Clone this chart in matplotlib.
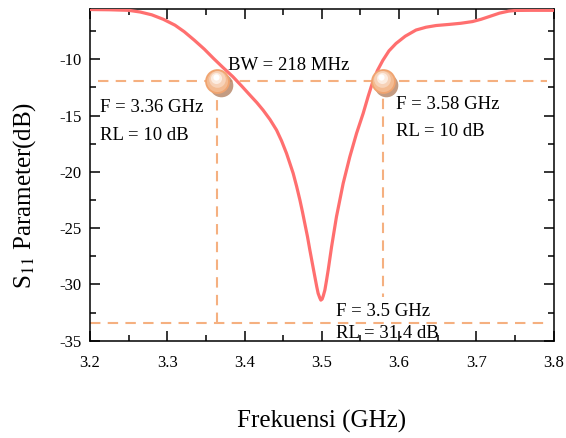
import matplotlib.pyplot as plt
from matplotlib.ticker import MultipleLocator

plt.rcParams['font.family'] = ['Liberation Serif', 'DejaVu Serif']
plt.rcParams['mathtext.fontset'] = 'stix'

# S11 curve
freq = [3.200, 3.225, 3.250, 3.265, 3.280, 3.295, 3.310, 3.322, 3.335, 3.348,
        3.360, 3.372, 3.385, 3.396, 3.407, 3.416, 3.424, 3.433, 3.4415, 3.448,
        3.4544, 3.459, 3.463, 3.4675, 3.4717, 3.475, 3.478, 3.4815, 3.4846, 3.488,
        3.491, 3.4935, 3.4953, 3.4975, 3.4988, 3.5005, 3.502, 3.504, 3.506, 3.5083,
        3.5127, 3.519, 3.5277, 3.5363, 3.545, 3.5536, 3.560, 3.566, 3.572, 3.579,
        3.587, 3.596, 3.608, 3.622, 3.635, 3.648, 3.665, 3.680, 3.695, 3.706,
        3.717, 3.730, 3.742, 3.751, 3.770, 3.800]
s11 = [-5.58, -5.60, -5.65, -5.80, -6.05, -6.45, -6.97, -7.55, -8.30, -9.10,
       -9.93, -10.72, -11.55, -12.35, -13.18, -13.85, -14.51, -15.35, -16.29, -17.25,
       -18.36, -19.30, -20.13, -21.30, -22.50, -23.55, -24.57, -25.75, -26.95, -28.20,
       -29.30, -30.20, -30.79, -31.20, -31.39, -31.30, -31.00, -30.50, -29.70, -28.72,
       -26.65, -23.99, -21.02, -18.66, -16.58, -14.80, -13.30, -12.00, -11.00, -10.10,
       -9.25, -8.60, -7.95, -7.40, -7.15, -7.00, -6.90, -6.80, -6.65, -6.45,
       -6.20, -5.90, -5.72, -5.66, -5.65, -5.65]

# marked points
f_low, f_high, f_res = 3.365, 3.579, 3.5
rl_level = -11.9
min_level = -33.4
vline_high_end = -31.1

fig = plt.figure(figsize=(5.66, 4.38), dpi=100)
ax = fig.add_axes([0.159, 0.222, 0.819, 0.757])

dash_c = '#f5b080'
dash_kw = dict(color=dash_c, lw=1.5, ls=(0, (5, 3.5)), zorder=2)

# guide lines
ax.plot([3.21, 3.792], [rl_level, rl_level], **dash_kw)
ax.plot([3.2, 3.792], [min_level, min_level], **dash_kw)
ax.plot([f_low, f_low], [min_level, rl_level], **dash_kw)
ax.plot([f_high, f_high], [rl_level, vline_high_end], **dash_kw)

# main curve
ax.plot(freq, s11, color='#ff6f6f', lw=2.3, zorder=3, solid_capstyle='round')

# bubble markers
for fx in [f_low, f_high]:
    ax.plot(fx + 0.0045, rl_level - 0.4, 'o', ms=17, color='#b98a6c',
            mec='none', zorder=4, alpha=0.85)
    ax.plot(fx, rl_level, 'o', ms=16.5, mfc='#f3bb92', mec='#f0a470',
            mew=1.3, zorder=5)
    ax.plot(fx - 0.0008, rl_level + 0.12, 'o', ms=12, color='#f7d2b8',
            mec='none', zorder=6)
    ax.plot(fx - 0.0015, rl_level + 0.22, 'o', ms=8, color='#fcece0',
            mec='none', zorder=7)
    ax.plot(fx - 0.002, rl_level + 0.3, 'o', ms=4.5, color='#ffffff',
            mec='none', zorder=7)

fs = 13.5
ax.text(3.379, -10.52, 'BW = 218 MHz', fontsize=fs, va='center', zorder=8)
ax.text(3.213, -14.3, 'F = 3.36 GHz', fontsize=fs, va='center', zorder=8)
ax.text(3.213, -16.75, 'RL = 10 dB', fontsize=fs, va='center', zorder=8)
ax.text(3.596, -14.0, 'F = 3.58 GHz', fontsize=fs, va='center', zorder=8)
ax.text(3.596, -16.4, 'RL = 10 dB', fontsize=fs, va='center', zorder=8)
ax.text(3.518, -32.42, 'F = 3.5 GHz', fontsize=fs, va='center', zorder=8)
ax.text(3.518, -34.34, 'RL = 31.4 dB', fontsize=fs, va='center', zorder=8,
        clip_on=False)

ax.set_xlim(3.2, 3.8)
ax.set_ylim(-35, -5.55)
ax.xaxis.set_major_locator(MultipleLocator(0.1))
ax.xaxis.set_minor_locator(MultipleLocator(0.05))
ax.yaxis.set_major_locator(MultipleLocator(5))
ax.yaxis.set_minor_locator(MultipleLocator(2.5))
ax.tick_params(which='both', direction='in', top=True, right=True,
               labeltop=False, labelright=False, width=1.1, labelsize=12)
ax.tick_params(which='major', length=7)
ax.tick_params(which='minor', length=4)
ax.tick_params(axis='x', which='major', pad=10)
ax.tick_params(axis='y', which='major', pad=6)
ax.set_yticks([-35, -30, -25, -20, -15, -10])
ax.set_yticklabels(['-35', '-30', '-25', '-20', '-15', '-10'])
for s in ax.spines.values():
    s.set_linewidth(1.1)

fig.text(0.568, 0.037, 'Frekuensi (GHz)', fontsize=18, ha='center', va='center')
fig.text(0.044, 0.555, 'S$_{11}$ Parameter(dB)', fontsize=18, rotation=90,
         ha='center', va='center')

fig.savefig('out.png', dpi=100)
